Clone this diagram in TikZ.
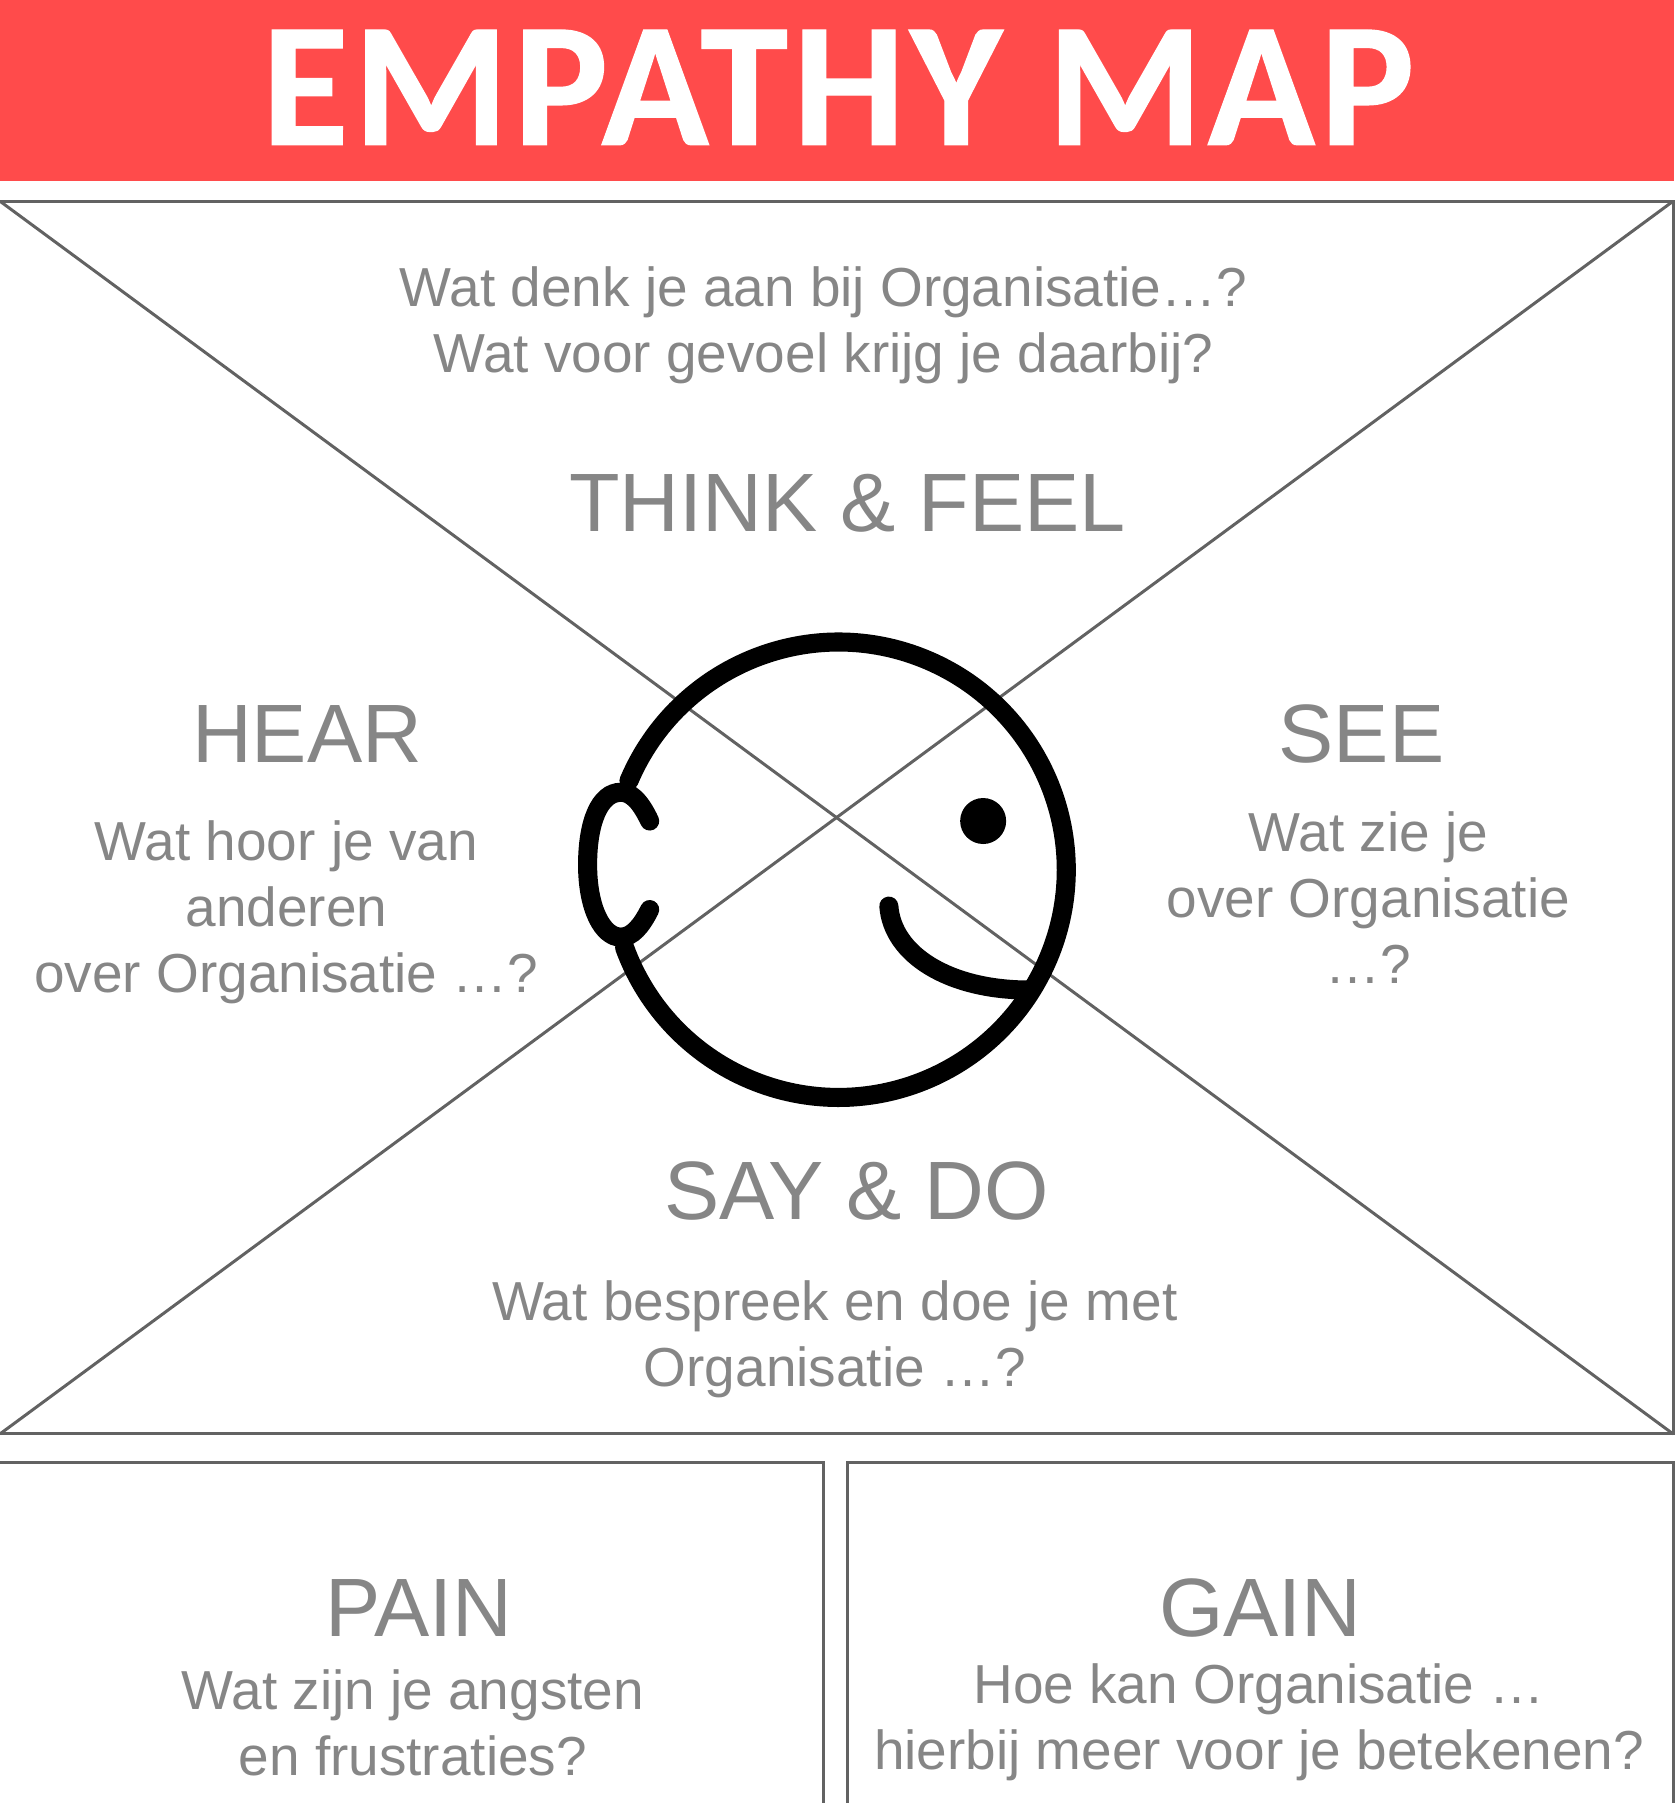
\documentclass[tikz,border=0pt]{standalone}
\usepackage{fontspec}
\setmainfont{Liberation Sans}
\newfontfamily\titlefont[BoldFont={Carlito Bold}, BoldFeatures={FakeBold=0.7, LetterSpace=3}]{Carlito}
\definecolor{titlered}{HTML}{FF4B4B}
\definecolor{linegrey}{HTML}{626262}
\definecolor{textgrey}{HTML}{868686}
\tikzset{
	head/.style={text=textgrey, font=\fontsize{36}{40}\selectfont, inner sep=0pt},
	body/.style={text=textgrey, font=\fontsize{23.9}{28.7}\selectfont, align=center, inner sep=0pt},
	frame/.style={draw=linegrey, line width=1.3pt},
	face/.style={draw=black, line width=8.3pt, line cap=round}
}
\begin{document}
\begin{tikzpicture}[x=0.5pt, y=-0.5pt]

	\useasboundingbox (0, 0) rectangle (1456, 1568);

	\node[fill=titlered, minimum width=728pt, minimum height=78.5pt, inner sep=0pt] (title) at (728, 78.5) {};
	\node[text=white, inner sep=0pt, font=\titlefont\bfseries\fontsize{77}{80}\selectfont] (titletext) at (729, 76) {EMPATHY MAP};

	\coordinate (tl) at (0, 175);
	\coordinate (tr) at (1455, 175);
	\coordinate (bl) at (0, 1247);
	\coordinate (br) at (1455, 1247);
	\draw[frame] (tl) -- (tr) -- (br) -- (bl);
	\draw[frame] (tl) -- (br);
	\draw[frame] (bl) -- (tr);

	\coordinate (painl) at (0, 1272);
	\coordinate (painr) at (716, 1272);
	\coordinate (painb) at (716, 1568);
	\coordinate (gainl) at (737, 1272);
	\coordinate (gainr) at (1455, 1272);
	\coordinate (gainb) at (737, 1568);
	\coordinate (gainc) at (1455, 1568);
	\draw[frame] (painl) -- (painr) -- (painb);
	\draw[frame] (gainb) -- (gainl) -- (gainr) -- (gainc);

	\draw[face] (547, 679) arc[start angle=203, end angle=520, radius=198];
	\draw[face] (565, 714) .. controls (556, 695) and (548, 689) .. (540, 689) .. controls (521, 689) and (511, 716) .. (511, 752) .. controls (511, 790) and (524, 815) .. (540, 815) .. controls (550, 815) and (558, 805) .. (565, 791);
	\draw[face] (773, 788) .. controls (776, 830) and (825, 861) .. (895, 861);
	\fill (855, 714) circle (20);

	\node[body] (thinktext) at (716, 283) {Wat denk je aan bij Organisatie…?\\Wat voor gevoel krijg je daarbij?};
	\node[head] (think) at (737, 438) {THINK \& FEEL};
	\node[head] (hear) at (267, 638) {HEAR};
	\node[body] (heartext) at (249, 793) {Wat hoor je van\\anderen\\over Organisatie …?};
	\node[head] (see) at (1184, 638) {SEE};
	\node[body] (seetext) at (1190, 781) {Wat zie je\\over Organisatie\\…?};
	\node[head] (say) at (745, 1036) {SAY \& DO};
	\node[body] (saytext) at (726, 1165) {Wat bespreek en doe je met\\Organisatie …?};
	\node[head] (pain) at (364, 1398) {PAIN};
	\node[body] (paintext) at (359, 1498) {Wat zijn je angsten\\en frustraties?};
	\node[head] (gain) at (1096, 1398) {GAIN};
	\node[body] (gaintext) at (1095, 1498) {Hoe kan Organisatie …\\hierbij meer voor je betekenen?};
\end{tikzpicture}
\end{document}
